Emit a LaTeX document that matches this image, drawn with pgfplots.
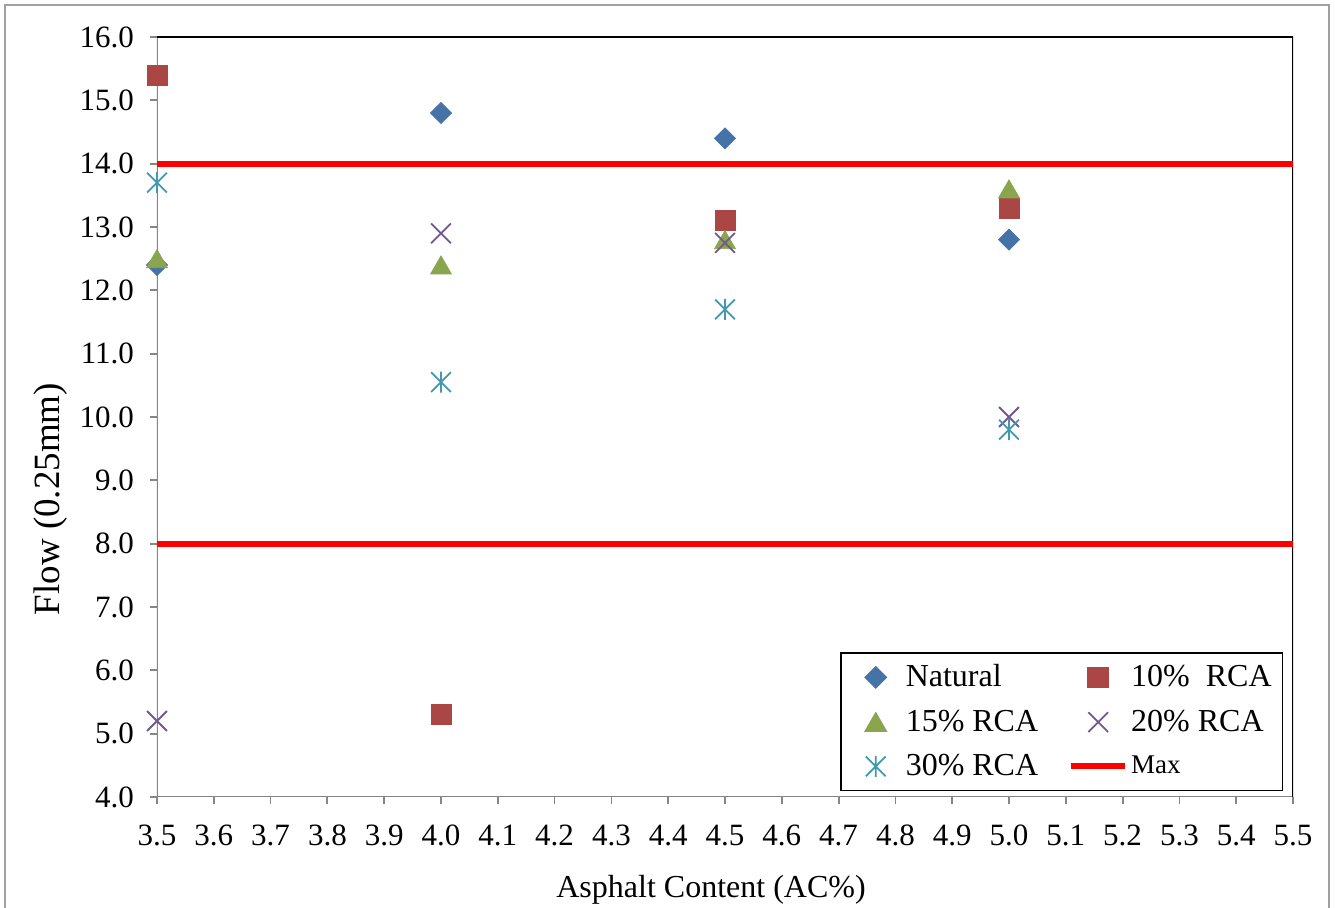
\documentclass[border=0pt]{standalone}
\usepackage{pgfplots}
\pgfplotsset{compat=1.18}
\usepackage{fontspec}
\setmainfont{Liberation Serif}

\definecolor{cNat}{RGB}{69,114,167}
\definecolor{cTen}{RGB}{170,70,67}
\definecolor{cFif}{RGB}{137,165,78}
\definecolor{cTwe}{RGB}{113,88,143}
\definecolor{cThi}{RGB}{65,152,175}
\definecolor{axisgray}{RGB}{134,134,134}
\definecolor{framegray}{RGB}{160,160,160}

% x with a vertical stroke through it
\pgfdeclareplotmark{xstar}{%
  \pgfpathmoveto{\pgfqpoint{-.707\pgfplotmarksize}{-.707\pgfplotmarksize}}%
  \pgfpathlineto{\pgfqpoint{.707\pgfplotmarksize}{.707\pgfplotmarksize}}%
  \pgfpathmoveto{\pgfqpoint{-.707\pgfplotmarksize}{.707\pgfplotmarksize}}%
  \pgfpathlineto{\pgfqpoint{.707\pgfplotmarksize}{-.707\pgfplotmarksize}}%
  \pgfpathmoveto{\pgfqpoint{0pt}{-.75\pgfplotmarksize}}%
  \pgfpathlineto{\pgfqpoint{0pt}{.75\pgfplotmarksize}}%
  \pgfusepathqstroke}

\begin{document}
\begin{tikzpicture}
\useasboundingbox (-78.5pt,-55.5pt) rectangle (589pt,398.5pt);
\draw[framegray, line width=1pt] (-76pt,-70pt) -- (-76pt,396pt) -- (586pt,396pt) -- (586pt,-70pt);
\begin{axis}[
  at={(0pt,0pt)}, anchor=south west,
  scale only axis, width=568pt, height=380pt,
  xmin=3.5, xmax=5.5, ymin=4, ymax=16,
  xtick={3.5,3.6,3.7,3.8,3.9,4.0,4.1,4.2,4.3,4.4,4.5,4.6,4.7,4.8,4.9,5.0,5.1,5.2,5.3,5.4,5.5},
  ytick={4,5,6,7,8,9,10,11,12,13,14,15,16},
  xtick pos=bottom, ytick pos=left,
  tick align=outside, major tick length=3.5pt,
  tick style={draw=axisgray, line width=0.9pt},
  axis line style={draw=none},
  /pgf/number format/.cd, fixed, fixed zerofill, precision=1, assume math mode=true,
  /pgfplots/.cd,
  ticklabel style={font=\fontsize{15.5}{15.5}\selectfont},
  xticklabel style={yshift=-7pt},
  yticklabel style={xshift=-4.5pt},
  xlabel={Asphalt Content (AC\%)},
  xlabel style={font=\fontsize{16}{16}\selectfont, at={(axis description cs:0.4877,-0.1316)}, anchor=base},
  ylabel={Flow (0.25mm)},
  ylabel style={font=\fontsize{18.5}{18.5}\selectfont, at={(axis description cs:-0.0854,0.392)}, anchor=base},
  legend columns=2,
  legend cell align=left,
  legend image code/.code={%
    \path[draw=none, fill=none] (0pt,-1pt) rectangle (27pt,1pt);
    \draw[mark repeat=2, mark phase=2, #1] plot coordinates {(0pt,0pt) (13.5pt,0pt) (27pt,0pt)};},
  legend style={at={(0.6012,0.1908)}, anchor=north west, draw=black, line width=0.8pt,
    font=\fontsize{16}{16}\selectfont, inner xsep=4pt, inner ysep=4pt, row sep=6pt,
    nodes={inner xsep=1.5pt},
    /tikz/every even column/.append style={column sep=13.5pt}},
]
\draw[axisgray, line width=1pt] (rel axis cs:0,1) -- (rel axis cs:0,0) -- (rel axis cs:1,0);
\draw[black, line width=1pt] (rel axis cs:0,1) -- (rel axis cs:1,1) -- (rel axis cs:1,0);

\addplot[only marks, mark=square*, mark size=3.7pt, mark options={rotate=45, fill=cNat, draw=cNat}]
  coordinates {(3.5,12.4) (4.0,14.8) (4.5,14.4) (5.0,12.8)};
\addlegendentry{Natural}
\addplot[only marks, mark=square*, mark size=5pt, mark options={fill=cTen, draw=cTen}]
  coordinates {(3.5,15.4) (4.0,5.3) (4.5,13.1) (5.0,13.3)};
\addlegendentry{10\%\ \ RCA}
\addplot[only marks, mark=triangle*, mark size=6pt, mark options={fill=cFif, draw=cFif, yshift=-1.5pt}]
  coordinates {(3.5,12.5) (4.0,12.4) (4.5,12.8) (5.0,13.6)};
\addlegendentry{15\% RCA}
\addplot[only marks, mark=x, mark size=7pt, line width=0.9pt, mark options={draw=cTwe}]
  coordinates {(3.5,5.2) (4.0,12.9) (4.5,12.75) (5.0,10.0)};
\addlegendentry{20\% RCA}
\addplot[only marks, mark=xstar, mark size=7pt, line width=0.9pt, mark options={draw=cThi}]
  coordinates {(3.5,13.7) (4.0,10.55) (4.5,11.7) (5.0,9.8)};
\addlegendentry{30\% RCA}
\addplot[red, line width=3pt] coordinates {(3.5,14) (5.5,14)};
\addlegendentry{{\fontsize{13.5}{13.5}\selectfont Max}}
\addplot[red, line width=3pt, forget plot] coordinates {(3.5,8) (5.5,8)};
\end{axis}
\end{tikzpicture}
\end{document}
